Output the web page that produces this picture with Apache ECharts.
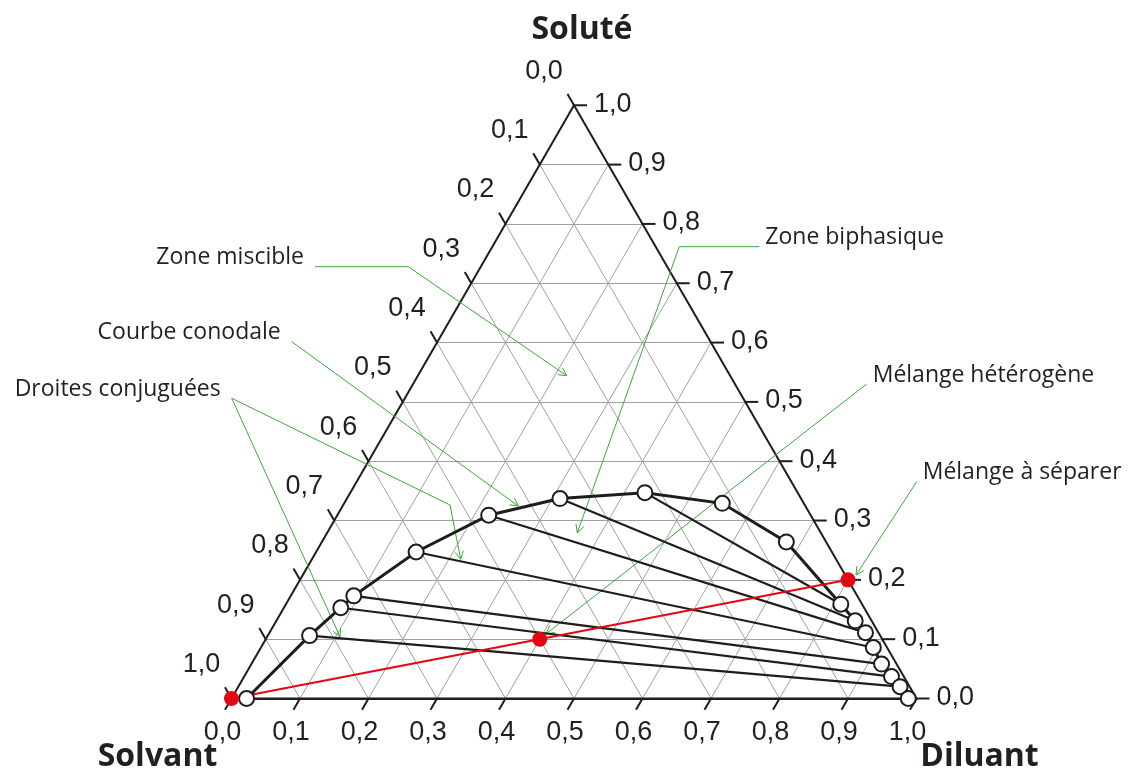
<!DOCTYPE html>
<html>
<head>
<meta charset="utf-8">
<script src="https://cdn.jsdelivr.net/npm/echarts@6/dist/echarts.min.js"></script>
<style>
html, body { margin: 0; padding: 0; background: #fff; }
#main { width: 1128px; height: 775px; }
</style>
</head>
<body>
<div id="main"></div>
<script>
var myChart = echarts.init(document.getElementById('main'));

// axis graduations (fractions) and their printed labels
var fractions = [0, 0.1, 0.2, 0.3, 0.4, 0.5, 0.6, 0.7, 0.8, 0.9, 1.0];
var tickLabels = ['0,0', '0,1', '0,2', '0,3', '0,4', '0,5', '0,6', '0,7', '0,8', '0,9', '1,0'];
var cornerNames = ['Soluté', 'Solvant', 'Diluant'];

// binodal curve, read from left branch to right branch
var curveSolute  = [0.000, 0.106, 0.153, 0.173, 0.247, 0.309, 0.337, 0.347, 0.329, 0.264,
                    0.159, 0.131, 0.111, 0.086, 0.058, 0.037, 0.020, 0.000];
var curveDiluant = [0.022, 0.061, 0.083, 0.092, 0.146, 0.221, 0.311, 0.430, 0.552, 0.678,
                    0.810, 0.845, 0.870, 0.894, 0.920, 0.945, 0.966, 0.988];

// tie lines: index of the left end and right end on the curve
var tieFrom = [0, 1, 2, 3, 4, 5, 6, 7];
var tieTo   = [17, 16, 15, 14, 13, 12, 11, 10];

// solvent, heterogeneous mixture, feed
var redSolute  = [0, 0.1, 0.2];
var redDiluant = [0, 0.4, 0.8];

// annotations
var noteNames = ['Zone miscible', 'Courbe conodale', 'Droites conjuguées',
                 'Zone biphasique', 'Mélange hétérogène', 'Mélange à séparer'];
var noteSide = ['left', 'left', 'left', 'right', 'right', 'right'];
// leader lines in plot units (base of the triangle = 1), first point next to the text
var notePaths = [
    [[[0.1219, 0.6304], [0.2581, 0.6304], [0.4893, 0.4712]]],
    [[[0.0879, 0.5209], [0.4187, 0.2810]]],
    [[[0.0003, 0.4383], [0.1584, 0.0902]],
     [[0.0003, 0.4383], [0.3190, 0.2825], [0.3346, 0.2032]]],
    [[[0.7705, 0.6596], [0.6537, 0.6596], [0.5048, 0.2420]]],
    [[[0.9273, 0.4591], [0.4591, 0.0942]]],
    [[[1.0003, 0.3165], [0.9117, 0.1803]]]
];

// page layout: where the Solvant corner sits and the base length, px
var X0 = 231.5, Y0 = 698.5, W = 685;
var R3 = Math.sqrt(3) / 2;

function xy(s, d) {
    return [d + s / 2, s * R3];
}

// grid
var gridSegs = [];
for (var k = 1; k < fractions.length - 1; k++) {
    var f = fractions[k];
    gridSegs.push({coords: [xy(f, 0), xy(f, 1 - f)]});
    gridSegs.push({coords: [xy(0, f), xy(1 - f, f)]});
    gridSegs.push({coords: [xy(0, 1 - f), xy(1 - f, 0)]});
}

// ticks and tick labels
var T = 13 / W;
var tickSegs = [];
var labelData = [];
fractions.forEach(function (f, i) {
    var pr = xy(f, 1 - f);   // solute, right side
    var pb = xy(0, f);       // diluant, base
    var pl = xy(1 - f, 0);   // solvant, left side
    tickSegs.push({coords: [pr, [pr[0] + T, pr[1]]]});
    tickSegs.push({coords: [pb, [pb[0] - T / 2, pb[1] - T * R3]]});
    tickSegs.push({coords: [pl, [pl[0] - T / 2, pl[1] + T * R3]]});
    labelData.push({name: tickLabels[i], value: pr, label: {align: 'left', offset: [20, -1]}});
    labelData.push({name: tickLabels[i], value: pb, label: {align: 'center', offset: [-9, 34]}});
    labelData.push({name: tickLabels[i], value: pl, label: {align: 'center', offset: [-30, -34]}});
});

var titleStyle = {fontFamily: 'Open Sans', fontWeight: 'bold', fontSize: 32, color: '#231f20'};
var titleData = [
    {name: cornerNames[0], value: xy(1, 0), label: Object.assign({align: 'center', offset: [8, -75]}, titleStyle)},
    {name: cornerNames[1], value: xy(0, 0), label: Object.assign({align: 'center', offset: [-74, 58]}, titleStyle)},
    {name: cornerNames[2], value: xy(0, 1), label: Object.assign({align: 'center', offset: [63, 58]}, titleStyle)}
];

// curve, tie lines, points
var curvePts = curveSolute.map(function (s, i) { return xy(s, curveDiluant[i]); });
var tieSegs = tieFrom.map(function (a, i) { return {coords: [curvePts[a], curvePts[tieTo[i]]]}; });
var redPts = redSolute.map(function (s, i) { return xy(s, redDiluant[i]); });

// annotation leaders with open arrow heads
var noteSegs = [];
var noteData = [];
var A = 9 / W, ang = 28 * Math.PI / 180;
notePaths.forEach(function (paths, i) {
    paths.forEach(function (p) {
        noteSegs.push({coords: p});
        var tip = p[p.length - 1], prev = p[p.length - 2];
        var dx = tip[0] - prev[0], dy = tip[1] - prev[1];
        var len = Math.sqrt(dx * dx + dy * dy);
        dx /= len; dy /= len;
        var arms = [ang, -ang].map(function (a) {
            var rx = dx * Math.cos(a) - dy * Math.sin(a);
            var ry = dx * Math.sin(a) + dy * Math.cos(a);
            return [tip[0] - A * rx, tip[1] - A * ry];
        });
        noteSegs.push({coords: [arms[0], tip, arms[1]]});
    });
    var left = noteSide[i] === 'left';
    noteData.push({
        name: noteNames[i],
        value: paths[0][0],
        label: {align: left ? 'right' : 'left', offset: [left ? -11 : 6, -9]}
    });
});

var ink = '#1d1d1b';
var hidden = {color: 'transparent', opacity: 1};

option = {
    animation: false,
    grid: {left: 0, right: 0, top: 0, bottom: 0},
    xAxis: {type: 'value', min: -X0 / W, max: (1128 - X0) / W, show: false},
    yAxis: {type: 'value', min: -(775 - Y0) / W, max: Y0 / W, show: false},
    series: [
        {
            type: 'lines', coordinateSystem: 'cartesian2d', silent: true, z: 1,
            data: gridSegs,
            lineStyle: {color: '#a0a0a0', width: 1, opacity: 1}
        },
        {
            type: 'lines', coordinateSystem: 'cartesian2d', silent: true, z: 2, polyline: true,
            data: [{coords: [xy(0, 0), xy(0, 1), xy(1, 0), xy(0, 0)]}].concat(tickSegs),
            lineStyle: {color: ink, width: 2, opacity: 1}
        },
        {
            type: 'lines', coordinateSystem: 'cartesian2d', silent: true, z: 3, polyline: true,
            data: noteSegs,
            lineStyle: {color: '#3aaa35', width: 1, opacity: 1}
        },
        {
            type: 'lines', coordinateSystem: 'cartesian2d', silent: true, z: 4,
            data: tieSegs,
            lineStyle: {color: ink, width: 2.2, opacity: 1}
        },
        {
            type: 'lines', coordinateSystem: 'cartesian2d', silent: true, z: 4, polyline: true,
            data: [{coords: curvePts}],
            lineStyle: {color: ink, width: 3, opacity: 1}
        },
        {
            type: 'lines', coordinateSystem: 'cartesian2d', silent: true, z: 5,
            data: [{coords: [redPts[0], redPts[2]]}],
            lineStyle: {color: '#e30613', width: 2, opacity: 1}
        },
        {
            type: 'scatter', silent: true, z: 6,
            data: curvePts,
            symbol: 'circle', symbolSize: 15,
            itemStyle: {color: '#fff', borderColor: ink, borderWidth: 2, opacity: 1}
        },
        {
            type: 'scatter', silent: true, z: 7,
            data: redPts,
            symbol: 'circle', symbolSize: 15,
            itemStyle: {color: '#e30613', opacity: 1}
        },
        {
            type: 'scatter', silent: true, z: 8,
            data: labelData,
            symbolSize: 1, itemStyle: hidden,
            label: {
                show: true, position: 'inside', formatter: '{b}', verticalAlign: 'middle',
                fontFamily: 'Liberation Sans', fontSize: 27, color: '#231f20', opacity: 1
            }
        },
        {
            type: 'scatter', silent: true, z: 8,
            data: noteData,
            symbolSize: 1, itemStyle: hidden,
            label: {
                show: true, position: 'inside', formatter: '{b}', verticalAlign: 'middle',
                fontFamily: 'Open Sans', fontSize: 23, color: '#231f20', opacity: 1
            }
        },
        {
            type: 'scatter', silent: true, z: 8,
            data: titleData,
            symbolSize: 1, itemStyle: hidden,
            label: {show: true, position: 'inside', formatter: '{b}', verticalAlign: 'middle', opacity: 1}
        }
    ]
};

myChart.setOption(option);
</script>
</body>
</html>
